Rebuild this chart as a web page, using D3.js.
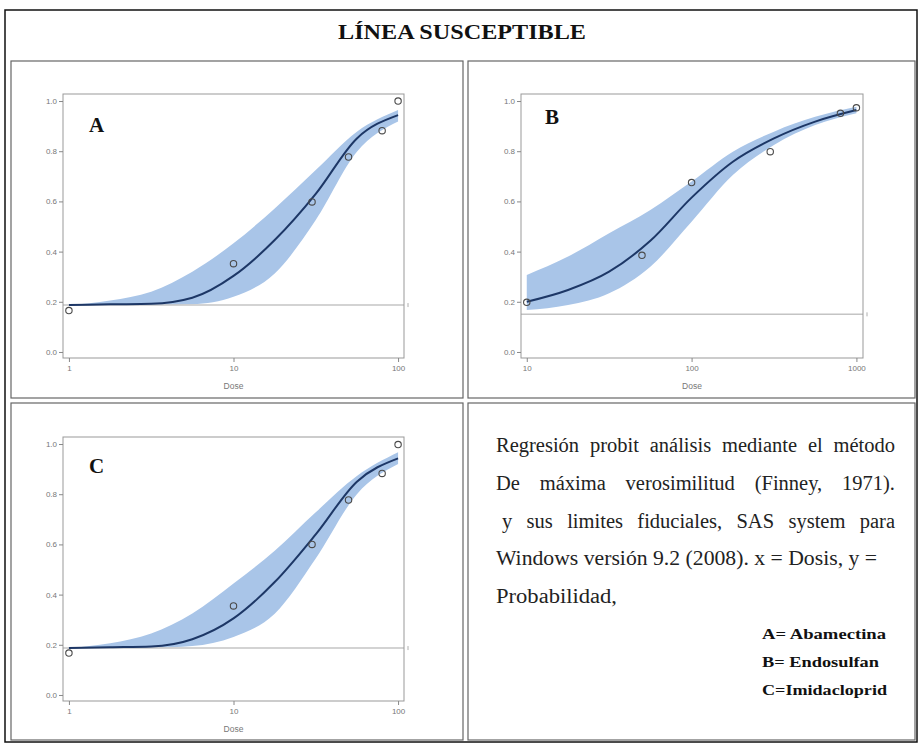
<!DOCTYPE html>
<html>
<head>
<meta charset="utf-8">
<script src="https://cdn.jsdelivr.net/npm/d3@7"></script>
<style>
body{margin:0;background:#fff;}
.axis text{font-family:"Liberation Sans",Arial,sans-serif;font-size:8px;fill:#777;}
.axis line{stroke:#888;}
.axis path{display:none;}
</style>
</head>
<body>
<div id="chart"></div>
<script>
// values
let doseA = [1, 10, 30, 50, 80, 100];
let obsA = [0.165, 0.352, 0.598, 0.777, 0.882, 1.0];
let gridA = [1, 1.78, 3.16, 5.62, 10, 17.8, 31.6, 56.2, 100];
let fitA = [0.187, 0.19, 0.192, 0.216, 0.303, 0.446, 0.63, 0.851, 0.944];
let upA = [0.187, 0.205, 0.24, 0.32, 0.433, 0.572, 0.725, 0.878, 0.964];
let loA = [0.187, 0.187, 0.187, 0.19, 0.22, 0.313, 0.526, 0.798, 0.918];
let ctrlA = 0.187;

let doseB = [10, 50, 100, 300, 800, 1000];
let obsB = [0.198, 0.385, 0.675, 0.798, 0.951, 0.973];
let gridB = [10, 17.8, 31.6, 56.2, 100, 178, 316, 562, 1000];
let fitB = [0.2, 0.247, 0.32, 0.443, 0.615, 0.758, 0.851, 0.918, 0.964];
let upB = [0.307, 0.38, 0.473, 0.566, 0.679, 0.798, 0.878, 0.937, 0.977];
let loB = [0.167, 0.187, 0.234, 0.34, 0.519, 0.705, 0.825, 0.904, 0.951];
let ctrlB = 0.15;

let doseC = [1, 10, 30, 50, 80, 100];
let obsC = [0.167, 0.355, 0.6, 0.777, 0.883, 0.998];
let gridC = [1, 1.78, 3.16, 5.62, 10, 17.8, 31.6, 56.2, 100];
let fitC = [0.187, 0.19, 0.193, 0.222, 0.305, 0.45, 0.64, 0.85, 0.943];
let upC = [0.187, 0.206, 0.245, 0.325, 0.444, 0.575, 0.728, 0.873, 0.967];
let loC = [0.187, 0.187, 0.188, 0.195, 0.231, 0.324, 0.544, 0.8, 0.92];
let ctrlC = 0.187;

let yTicks = [0, 0.2, 0.4, 0.6, 0.8, 1.0];
let xTicksA = [1, 10, 100];
let xTicksB = [10, 100, 1000];
let xTicksC = [1, 10, 100];

let title = "LÍNEA SUSCEPTIBLE";
let noteLines = [
    "Regresión probit análisis mediante el método",
    "De máxima verosimilitud (Finney, 1971).",
    "y sus limites fiduciales, SAS system para",
    "Windows versión 9.2 (2008). x = Dosis, y =",
    "Probabilidad,"
];
let legendLines = ["A= Abamectina", "B= Endosulfan", "C=Imidacloprid"];

let screen = {width:921, height:744};

let svg = d3.select("#chart")
        .append("svg")
        .attr("width", screen.width)
        .attr("height", screen.height)
        .style("font-family", "'Liberation Serif','Times New Roman',serif");

svg.append("rect").attr("width", screen.width).attr("height", screen.height).attr("fill", "#fff");

// outer frame and title
svg.append("rect")
    .attr("x", 5).attr("y", 10).attr("width", 912).attr("height", 732)
    .attr("fill", "none").attr("stroke", "#111").attr("stroke-width", 1.5);

svg.append("text")
    .attr("x", 462).attr("y", 38.5)
    .attr("text-anchor", "middle")
    .attr("font-size", 20).attr("font-weight", "bold")
    .attr("textLength", 248).attr("lengthAdjust", "spacingAndGlyphs")
    .attr("fill", "#111")
    .text(title);

// four boxes
let boxes = [
    {x:11, y:61, w:452, h:337},
    {x:468, y:61, w:447, h:337},
    {x:11, y:403, w:452, h:337},
    {x:468, y:403, w:447, h:337}
];
svg.selectAll("rect.box")
    .data(boxes)
    .enter()
    .append("rect")
    .attr("class", "box")
    .attr("x", function(d){ return d.x; })
    .attr("y", function(d){ return d.y; })
    .attr("width", function(d){ return d.w; })
    .attr("height", function(d){ return d.h; })
    .attr("fill", "none")
    .attr("stroke", "#666")
    .attr("stroke-width", 1.2);

let drawPanel = function(p)
{
    let xScale = d3.scaleLog()
                .domain(p.xDomain)
                .range([p.left, p.right]);
    let yScale = d3.scaleLinear()
                .domain([-0.024, 1.028])
                .range([p.bottom, p.top]);

    let g = svg.append("g");

    let band = p.grid.map(function(d,i){ return {x:d, lo:p.lo[i], hi:p.up[i]}; });
    let fit = p.grid.map(function(d,i){ return {x:d, y:p.fit[i]}; });

    g.append("path")
        .datum(band)
        .attr("fill", "#a9c5e8")
        .attr("d", d3.area()
            .curve(d3.curveMonotoneX)
            .x(function(d){ return xScale(d.x); })
            .y0(function(d){ return yScale(d.lo); })
            .y1(function(d){ return yScale(d.hi); }));

    // control mortality line
    g.append("line")
        .attr("x1", p.left).attr("x2", p.right)
        .attr("y1", yScale(p.ctrl)).attr("y2", yScale(p.ctrl))
        .attr("stroke", "#c4c4c4").attr("stroke-width", 1.5);
    g.append("line")
        .attr("x1", p.right + 4).attr("x2", p.right + 4)
        .attr("y1", yScale(p.ctrl) - 2).attr("y2", yScale(p.ctrl) + 2)
        .attr("stroke", "#999").attr("stroke-width", 0.8);

    g.append("path")
        .datum(fit)
        .attr("fill", "none")
        .attr("stroke", "#1d3766")
        .attr("stroke-width", 2)
        .attr("d", d3.line()
            .curve(d3.curveMonotoneX)
            .x(function(d){ return xScale(d.x); })
            .y(function(d){ return yScale(d.y); }));

    g.selectAll("circle")
        .data(p.dose)
        .enter()
        .append("circle")
        .attr("cx", function(d){ return xScale(d); })
        .attr("cy", function(d,i){ return yScale(p.obs[i]); })
        .attr("r", 3.2)
        .attr("fill", "none")
        .attr("stroke", "#4a4a4a")
        .attr("stroke-width", 1.1);

    g.append("rect")
        .attr("x", p.left).attr("y", p.top)
        .attr("width", p.right - p.left).attr("height", p.bottom - p.top)
        .attr("fill", "none").attr("stroke", "#999").attr("stroke-width", 1);

    g.append("g")
        .attr("class", "axis")
        .attr("transform", "translate(" + p.left + ",0)")
        .call(d3.axisLeft(yScale).tickValues(yTicks).tickSize(4).tickPadding(2).tickFormat(d3.format(".1f")));

    g.append("g")
        .attr("class", "axis")
        .attr("transform", "translate(0," + p.bottom + ")")
        .call(d3.axisBottom(xScale).tickValues(p.xTicks).tickSize(4).tickPadding(3).tickFormat(d3.format("d")));

    g.append("text")
        .attr("x", (p.left + p.right) / 2)
        .attr("y", p.bottom + 31)
        .attr("text-anchor", "middle")
        .style("font-family", "'Liberation Sans',Arial,sans-serif")
        .attr("font-size", 8.5)
        .attr("fill", "#777")
        .text("Dose");

    g.append("text")
        .attr("x", p.labelX).attr("y", p.labelY)
        .attr("font-size", 21).attr("font-weight", "bold")
        .attr("fill", "#111")
        .text(p.label);
}

drawPanel({label:"A", labelX:89, labelY:132, left:63, right:404, top:94, bottom:358,
    xDomain:[Math.pow(10,-0.036), Math.pow(10,2.036)], xTicks:xTicksA,
    dose:doseA, obs:obsA, grid:gridA, fit:fitA, up:upA, lo:loA, ctrl:ctrlA});

drawPanel({label:"B", labelX:545, labelY:124, left:521, right:863, top:94, bottom:358,
    xDomain:[Math.pow(10,0.965), Math.pow(10,3.04)], xTicks:xTicksB,
    dose:doseB, obs:obsB, grid:gridB, fit:fitB, up:upB, lo:loB, ctrl:ctrlB});

drawPanel({label:"C", labelX:89, labelY:473, left:63, right:404, top:437, bottom:701,
    xDomain:[Math.pow(10,-0.036), Math.pow(10,2.036)], xTicks:xTicksC,
    dose:doseC, obs:obsC, grid:gridC, fit:fitC, up:upC, lo:loC, ctrl:ctrlC});

// note box text: first three lines justified by widening the word gaps,
// last two stretched a little to the wider face of the original
let noteStart = [496, 496, 502, 496, 496];
let noteEnd = [895, 895, 895, null, null];
let noteWidth = [null, null, null, 381, 121];
let note = svg.append("g");
note.selectAll("text.note")
    .data(noteLines)
    .enter()
    .append("text")
    .attr("class", "note")
    .attr("x", function(d,i){ return noteStart[i]; })
    .attr("y", function(d,i){ return 452 + i * 37.8; })
    .attr("font-size", 20.5)
    .attr("fill", "#222")
    .text(function(d){ return d; })
    .each(function(d,i)
    {
        if(noteEnd[i] == null)
        {
            d3.select(this).attr("textLength", noteWidth[i]).attr("lengthAdjust", "spacingAndGlyphs");
            return;
        }
        let w = this.getComputedTextLength();
        let gaps = d.split(" ").length - 1;
        let extra = (noteEnd[i] - noteStart[i] - w) / gaps;
        if(extra > 0) d3.select(this).attr("word-spacing", extra);
    });

note.selectAll("text.leg")
    .data(legendLines)
    .enter()
    .append("text")
    .attr("class", "leg")
    .attr("x", 762)
    .attr("y", function(d,i){ return 639 + i * 28; })
    .attr("font-size", 15)
    .attr("font-weight", "bold")
    .attr("fill", "#111")
    .attr("textLength", function(d,i){ return [124, 117, 125][i]; })
    .attr("lengthAdjust", "spacingAndGlyphs")
    .text(function(d){ return d; });
</script>
</body>
</html>
